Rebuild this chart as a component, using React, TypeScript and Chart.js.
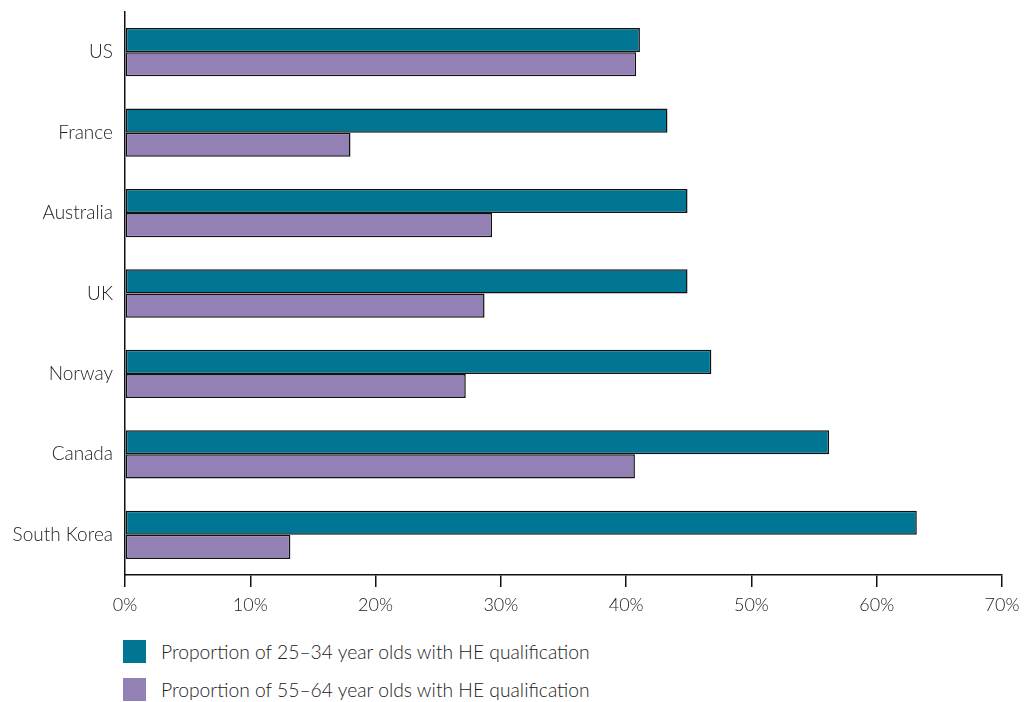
import React, { useEffect, useRef } from "react";
import { Chart, registerables } from "chart.js";

Chart.register(...registerables);

const countries = ["US", "France", "Australia", "UK", "Norway", "Canada", "South Korea"];
const young = [41.1, 43.3, 44.9, 44.9, 46.8, 56.2, 63.2];
const older = [40.8, 18.0, 29.3, 28.7, 27.2, 40.7, 13.2];
const seriesLabels = [
  "Proportion of 25\u201334 year olds with HE qualification",
  "Proportion of 55\u201364 year olds with HE qualification",
];
const seriesColors = ["#007694", "#9380b5"];
const xMax = 70;
const xStep = 10;

const FONT = "Lato, 'Open Sans', sans-serif";
const TEXT = "#222222";

export default function App() {
  const canvasRef = useRef<HTMLCanvasElement | null>(null);

  useEffect(() => {
    const canvas = canvasRef.current;
    if (!canvas) return;
    const chart = new Chart(canvas, {
      type: "bar",
      data: {
        labels: countries,
        datasets: [
          {
            label: seriesLabels[0],
            data: young,
            backgroundColor: seriesColors[0],
            borderColor: "#111111",
            borderWidth: 1.5,
            borderSkipped: false,
          },
          {
            label: seriesLabels[1],
            data: older,
            backgroundColor: seriesColors[1],
            borderColor: "#111111",
            borderWidth: 1.5,
            borderSkipped: false,
          },
        ],
      },
      options: {
        indexAxis: "y",
        animation: false,
        responsive: false,
        maintainAspectRatio: false,
        layout: { padding: { top: 12, right: 26, left: 0, bottom: 0 } },
        datasets: { bar: { categoryPercentage: 0.6, barPercentage: 1 } },
        plugins: { legend: { display: false }, tooltip: { enabled: false } },
        scales: {
          x: {
            min: 0,
            max: xMax,
            ticks: {
              stepSize: xStep,
              color: TEXT,
              padding: 7,
              font: { family: FONT, size: 18, weight: 300 },
              callback: (v) => `${v}%`,
            },
            grid: {
              display: true,
              drawOnChartArea: false,
              drawTicks: true,
              tickLength: 12,
              color: "#111111",
              lineWidth: 1.5,
            },
            border: { display: true, color: "#111111", width: 1.5 },
            afterFit: (scale) => {
              scale.height = 45;
            },
          },
          y: {
            ticks: {
              color: TEXT,
              padding: 12,
              font: { family: FONT, size: 19, weight: 300 },
            },
            grid: { display: false, drawTicks: false },
            border: { display: true, color: "#111111", width: 1.5 },
            afterFit: (scale) => {
              scale.width = 125;
              scale.paddingTop = 0;
              scale.paddingBottom = 0;
            },
          },
        },
      },
    });
    return () => chart.destroy();
  }, []);

  return (
    <div
      style={{
        position: "absolute",
        left: 0,
        top: 0,
        width: 1028,
        height: 702,
        background: "#fff",
        fontFamily: FONT,
      }}
    >
      <canvas ref={canvasRef} width={1028} height={620} style={{ display: "block" }} />
      {seriesLabels.map((lab, i) => (
        <div
          key={lab}
          style={{
            position: "absolute",
            left: 123,
            top: 640 + i * 38,
            height: 23,
            display: "flex",
            alignItems: "center",
          }}
        >
          <span
            style={{
              display: "inline-block",
              width: 23,
              height: 23,
              background: seriesColors[i],
              marginRight: 15,
            }}
          />
          <span style={{ fontSize: 19.3, fontWeight: 300, color: TEXT }}>{lab}</span>
        </div>
      ))}
    </div>
  );
}
